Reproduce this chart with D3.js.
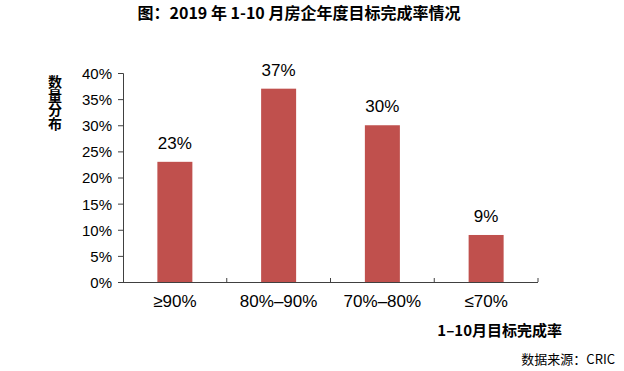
<!DOCTYPE html>
<html>
<head>
<meta charset="utf-8">
<script src="https://cdn.jsdelivr.net/npm/d3@7"></script>
<style>
  body { margin: 0; background: #fff; }
  text { font-family: "Liberation Sans", Arial, sans-serif; fill: #000; }
  .cjk { font-family: "Noto Sans CJK SC", sans-serif; }
</style>
</head>
<body>
<div id="chart"></div>
<script>
// data
var categories = ["\u226590%", "80%\u201390%", "70%\u201380%", "\u226470%"];
var shares = [0.23, 0.37, 0.30, 0.09];
var valueLabels = ["23%", "37%", "30%", "9%"];
var yTicks = [0, 0.05, 0.10, 0.15, 0.20, 0.25, 0.30, 0.35, 0.40];

var W = 624, H = 371;
var plotLeft = 123, plotRight = 538, plotTop = 73, plotBottom = 282;
var barWidth = 35;

var svg = d3.select("#chart").append("svg").attr("width", W).attr("height", H);

var x = d3.scaleBand().domain(categories).range([plotLeft, plotRight]).padding(0);
var y = d3.scaleLinear().domain([0, 0.4]).range([plotBottom, plotTop]);

// title
svg.append("text").attr("class", "cjk")
    .attr("x", 299).attr("y", 19)
    .attr("text-anchor", "middle")
    .style("font-size", "16px").style("font-weight", "bold")
    .text("图：2019 年 1-10 月房企年度目标完成率情况");

// y axis
var yAxis = d3.axisLeft(y).tickValues(yTicks).tickSize(5)
    .tickFormat(function(d) { return Math.round(d * 100) + "%"; });
var gy = svg.append("g").attr("transform", "translate(" + plotLeft + ",0)").call(yAxis);
gy.select(".domain").attr("stroke", "#404040").attr("d", "M-5," + (plotTop + 0.5) + "H0.5V" + plotBottom);
gy.selectAll(".tick line").attr("stroke", "#404040");
gy.selectAll(".tick text").attr("x", -11).attr("dy", "0.36em")
    .style("font-size", "15px").style("font-family", "Liberation Sans, Arial, sans-serif").attr("fill", "#000");

// x axis: baseline with small ticks between categories pointing up
svg.append("line")
    .attr("x1", plotLeft).attr("x2", plotRight).attr("y1", plotBottom + 0.5).attr("y2", plotBottom + 0.5)
    .attr("stroke", "#404040");
svg.selectAll(".sep").data(categories).enter().append("line")
    .attr("class", "sep")
    .attr("x1", function(d) { return x(d) + x.bandwidth(); })
    .attr("x2", function(d) { return x(d) + x.bandwidth(); })
    .attr("y1", plotBottom - 4).attr("y2", plotBottom)
    .attr("stroke", "#404040");

// bars
svg.selectAll(".bar").data(shares).enter().append("rect")
    .attr("class", "bar")
    .attr("x", function(d, i) { return x(categories[i]) + x.bandwidth() / 2 - barWidth / 2; })
    .attr("y", function(d) { return y(d); })
    .attr("width", barWidth)
    .attr("height", function(d) { return plotBottom - y(d); })
    .attr("fill", "#c0504d");

// value labels
svg.selectAll(".val").data(shares).enter().append("text")
    .attr("class", "val")
    .attr("x", function(d, i) { return x(categories[i]) + x.bandwidth() / 2; })
    .attr("y", function(d) { return y(d) - 13; })
    .attr("text-anchor", "middle")
    .style("font-size", "17px")
    .text(function(d, i) { return valueLabels[i]; });

// category labels
svg.selectAll(".cat").data(categories).enter().append("text")
    .attr("class", "cat")
    .attr("x", function(d) { return x(d) + x.bandwidth() / 2; })
    .attr("y", 307)
    .attr("text-anchor", "middle")
    .style("font-size", "17px")
    .text(function(d) { return d; });

// y axis title, written top to bottom
svg.append("text").attr("class", "cjk")
    .attr("x", 55).attr("y", 75)
    .style("writing-mode", "vertical-rl")
    .style("font-size", "14px").style("font-weight", "bold")
    .text("数量分布");

// x axis title
svg.append("text").attr("class", "cjk")
    .attr("x", 562).attr("y", 336)
    .attr("text-anchor", "end")
    .style("font-size", "15px").style("font-weight", "bold")
    .text("1\u201310月目标完成率");

// source
svg.append("text").attr("class", "cjk")
    .attr("x", 615).attr("y", 364)
    .attr("text-anchor", "end")
    .style("font-size", "13px")
    .text("数据来源：CRIC");
</script>
</body>
</html>
